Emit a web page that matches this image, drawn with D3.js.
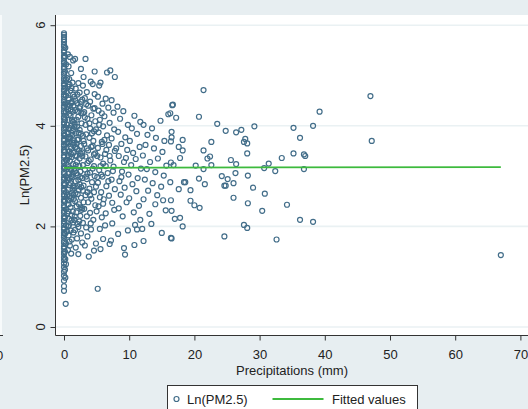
<!DOCTYPE html>
<html lang="en">
<head>
<meta charset="UTF-8">
<title>Ln(PM2.5) vs Precipitations</title>
<script src="https://d3js.org/d3.v7.min.js"></script>
<style>
  html, body { margin: 0; padding: 0; background: #e7eef1; }
  svg { display: block; font-family: "Liberation Sans", Arial, sans-serif; }
</style>
</head>
<body>
<div id="chart"></div>
<script>
// Observations with no rain (precipitation = 0), Ln(PM2.5) values
const noRain = [0.72, 0.81, 0.92, 1.02, 1.1, 1.19, 1.26, 1.33, 1.38, 1.45, 1.49, 1.56, 1.6, 1.67, 1.71, 1.78,
  1.82, 1.87, 1.94, 1.98, 2.05, 2.1, 2.16, 2.2, 2.27, 2.31, 2.38, 2.42, 2.49, 2.53, 2.6, 2.64, 2.71, 2.75,
  2.82, 2.86, 2.93, 2.97, 3.04, 3.08, 3.15, 3.19, 3.26, 3.3, 3.37, 3.41, 3.48, 3.52, 3.59, 3.63, 3.7, 3.74,
  3.81, 3.85, 3.92, 3.96, 4.03, 4.07, 4.14, 4.18, 4.25, 4.29, 4.36, 4.4, 4.47, 4.51, 4.58, 4.62, 4.69, 4.73,
  4.8, 4.84, 4.91, 4.95, 5.02, 5.06, 5.13, 5.17, 5.24, 5.28, 5.35, 5.39, 5.46, 5.5, 5.57, 5.61, 5.67, 5.72,
  5.77, 5.81, 5.84];

// Very light rain, [precip mm, Ln(PM2.5)]
const traceRain = [[0.26, 0.46], [0.2, 0.98], [0.15, 1.14], [0.3, 1.25], [0.2, 1.35], [0.15, 1.5], [0.3, 1.66],
  [0.15, 1.85], [0.3, 2.02], [0.15, 2.18], [0.3, 2.34], [0.15, 2.5], [0.3, 2.68], [0.15, 2.84], [0.3, 3.0],
  [0.15, 3.16], [0.3, 3.32], [0.15, 3.48], [0.3, 3.64], [0.15, 3.8], [0.3, 3.96], [0.15, 4.12], [0.3, 4.28],
  [0.15, 4.44], [0.3, 4.6], [0.15, 4.76], [0.3, 4.92], [0.15, 5.08], [0.3, 5.22], [0.15, 5.38], [0.2, 5.55]];

// Rainy observations, [precip mm, Ln(PM2.5)]
const rainy = [
  [0.6, 5.42], [0.9, 5.37], [1.4, 5.3], [0.7, 5.18], [1.1, 5.05], [0.8, 4.93], [1.3, 4.86], [0.6, 4.78],
  [1.0, 4.7], [1.4, 4.62], [0.7, 4.55], [1.2, 4.47], [0.9, 4.4], [0.6, 4.33], [1.3, 4.28], [1.0, 4.2],
  [0.7, 4.12], [1.4, 4.08], [1.1, 4.0], [0.8, 3.93], [0.6, 3.86], [1.3, 3.82], [1.0, 3.75], [0.7, 3.68],
  [1.4, 3.62], [1.1, 3.55], [0.8, 3.49], [0.6, 3.42], [1.2, 3.38], [0.9, 3.3], [1.4, 3.24], [0.7, 3.18],
  [1.1, 3.12], [0.8, 3.05], [1.3, 2.98], [0.6, 2.92], [1.0, 2.86], [1.4, 2.8], [0.7, 2.73], [1.2, 2.66],
  [0.9, 2.6], [0.6, 2.52], [1.3, 2.46], [1.0, 2.38], [0.7, 2.3], [1.2, 2.22], [0.8, 2.15], [1.4, 2.08],
  [0.6, 2.0], [1.0, 1.92], [0.7, 1.82], [1.2, 1.74], [0.9, 1.62], [0.6, 1.53], [1.1, 1.46],
  [1.7, 5.33], [2.6, 5.13], [2.2, 4.85], [2.9, 4.8], [1.8, 4.74], [2.4, 4.66], [1.6, 4.58], [2.8, 4.52],
  [2.0, 4.45], [2.5, 4.38], [1.7, 4.31], [2.9, 4.25], [2.2, 4.18], [1.6, 4.11], [2.7, 4.05], [2.0, 3.98],
  [2.4, 3.92], [1.8, 3.85], [2.9, 3.8], [2.2, 3.73], [1.6, 3.66], [2.6, 3.6], [2.0, 3.54], [2.8, 3.47],
  [1.7, 3.41], [2.4, 3.35], [2.0, 3.28], [2.9, 3.22], [1.6, 3.15], [2.5, 3.09], [2.1, 3.02], [2.8, 2.96],
  [1.8, 2.9], [2.4, 2.84], [1.6, 2.77], [2.9, 2.71], [2.1, 2.64], [2.6, 2.57], [1.7, 2.5], [2.3, 2.44],
  [2.8, 2.36], [1.9, 2.28], [2.5, 2.21], [1.6, 2.13], [2.9, 2.07], [2.2, 1.99], [1.7, 1.93], [2.6, 1.86],
  [2.0, 1.76], [2.8, 1.68], [2.2, 1.45], [1.8, 1.58],
  [3.3, 5.33], [4.7, 5.08], [3.0, 4.97], [4.1, 4.88], [4.4, 4.83], [3.5, 4.67], [4.7, 4.63], [3.2, 4.55],
  [4.0, 4.48], [3.7, 4.4], [4.5, 4.34], [3.1, 4.27], [4.2, 4.21], [3.6, 4.14], [4.8, 4.09], [3.3, 4.02],
  [4.0, 3.95], [4.6, 3.89], [3.4, 3.83], [3.9, 3.76], [4.5, 3.7], [3.1, 3.64], [4.2, 3.58], [3.7, 3.51],
  [4.8, 3.45], [3.3, 3.39], [4.1, 3.33], [3.6, 3.26], [4.6, 3.2], [3.2, 3.13], [4.0, 3.07], [4.7, 3.0],
  [3.5, 2.94], [4.3, 2.88], [3.0, 2.81], [3.9, 2.75], [4.6, 2.68], [3.3, 2.62], [4.2, 2.55], [3.7, 2.48],
  [4.8, 2.42], [3.1, 2.35], [4.0, 2.27], [3.5, 2.2], [4.5, 2.13], [4.1, 2.06], [3.4, 1.98], [4.14, 1.94],
  [3.2, 1.62], [4.6, 1.52], [3.8, 1.4], [4.9, 1.66], [3.6, 1.8],
  [6.6, 5.06], [7.1, 5.1], [7.8, 4.97], [5.6, 4.86], [5.4, 4.8], [5.2, 4.58], [6.4, 4.54], [7.3, 4.51],
  [5.9, 4.44], [6.8, 4.36], [5.3, 4.3], [7.6, 4.26], [6.2, 4.19], [5.5, 4.12], [7.0, 4.06], [6.0, 3.99],
  [7.7, 3.93], [5.3, 3.87], [6.6, 3.81], [7.3, 3.75], [5.8, 3.68], [6.9, 3.62], [5.2, 3.56], [7.8, 3.5],
  [6.3, 3.44], [5.6, 3.37], [7.1, 3.31], [6.0, 3.25], [7.6, 3.19], [5.4, 3.12], [6.7, 3.06], [5.9, 2.99],
  [7.3, 2.93], [5.2, 2.87], [6.5, 2.8], [7.8, 2.74], [5.7, 2.68], [6.9, 2.61], [6.1, 2.54], [7.4, 2.47],
  [5.3, 2.4], [7.7, 2.33], [6.4, 2.26], [5.8, 2.18], [7.4, 2.06], [6.3, 2.02], [5.5, 1.95], [7.0, 1.65],
  [7.2, 1.72], [5.17, 0.76], [6.0, 1.75], [5.6, 1.55],
  [8.2, 4.38], [9.1, 4.29], [10.8, 4.2], [11.7, 4.08], [8.6, 4.14], [9.8, 4.02], [10.4, 3.95], [8.3, 3.88],
  [11.2, 3.84], [9.4, 3.77], [10.1, 3.7], [8.8, 3.64], [11.6, 3.58], [9.7, 3.52], [10.6, 3.46], [8.4, 3.4],
  [11.0, 3.34], [9.2, 3.28], [10.3, 3.22], [11.8, 3.15], [8.9, 3.09], [9.9, 3.03], [11.3, 2.96], [8.5, 2.9],
  [10.5, 2.84], [9.3, 2.77], [11.1, 2.7], [8.7, 2.63], [10.0, 2.56], [9.6, 2.48], [11.5, 2.41], [8.4, 2.36],
  [10.7, 2.28], [9.0, 2.2], [10.9, 2.03], [11.2, 1.94], [11.7, 2.13], [9.2, 1.57], [9.36, 1.44], [10.8, 1.63],
  [8.3, 1.85], [9.8, 1.92],
  [12.2, 4.02], [13.5, 3.95], [14.8, 4.1], [16.0, 4.23], [16.6, 4.41], [12.8, 3.82], [14.1, 3.76], [15.4, 3.7],
  [12.5, 3.62], [13.8, 3.55], [15.1, 3.48], [12.1, 3.41], [14.4, 3.35], [13.2, 3.28], [15.7, 3.21], [12.7, 3.14],
  [14.0, 3.08], [15.3, 3.01], [12.4, 2.93], [13.6, 2.86], [14.9, 2.79], [12.9, 2.71], [14.3, 2.62], [12.2, 2.54],
  [14.0, 2.44], [15.2, 2.52], [13.1, 2.25], [15.6, 2.32], [12.0, 1.95], [12.2, 1.71], [15.0, 1.87], [16.4, 1.77],
  [13.4, 2.05],
  [0.8, 3.96], [1.5, 3.71], [2.3, 3.5], [3.8, 3.3], [0.9, 3.15], [1.9, 3.06], [3.4, 2.99], [4.4, 3.6],
  [5.1, 3.4], [5.7, 3.03], [0.7, 2.44], [1.5, 2.55], [2.7, 2.33], [3.6, 2.68], [4.9, 2.79], [5.5, 2.58],
  [1.2, 4.12], [2.1, 4.28], [3.0, 3.7], [3.9, 4.05], [4.9, 3.93], [5.9, 3.64], [6.4, 3.2], [6.8, 2.9],
  [1.0, 3.58], [1.8, 3.22], [2.5, 2.98], [3.5, 3.55], [4.4, 3.15], [5.1, 2.98], [0.6, 3.74], [1.6, 3.98],
  [2.6, 3.84], [3.2, 4.17], [4.3, 3.85], [5.4, 4.02], [6.2, 3.72], [1.3, 2.73], [2.2, 2.92], [3.0, 2.48],
  [4.0, 2.62], [5.0, 2.3], [6.0, 2.45], [0.9, 2.95], [1.9, 3.65], [2.8, 3.4], [3.6, 3.05], [4.6, 3.43],
  [5.6, 3.2], [6.5, 3.52], [7.0, 3.4], [7.5, 3.1], [8.0, 3.55], [8.8, 2.98], [9.5, 3.36], [1.1, 4.45],
  [2.6, 4.48], [3.4, 4.43], [4.7, 4.35], [5.8, 4.25],
  [0.5, 4.95], [0.45, 4.66], [0.5, 4.38], [0.45, 4.02], [0.5, 3.66], [0.45, 3.31], [0.5, 2.96], [0.45, 2.62],
  [0.5, 2.26], [0.45, 1.9], [0.85, 4.82], [0.75, 4.52], [0.85, 4.24], [0.8, 3.78], [0.75, 3.38], [0.85, 2.82],
  [0.8, 2.52], [0.75, 2.02], [0.85, 1.7], [1.15, 4.75], [1.05, 4.32], [1.15, 3.86], [1.05, 3.44], [1.15, 3.0],
  [1.05, 2.56], [1.15, 2.12], [1.45, 4.4], [1.35, 3.9], [1.45, 3.46], [1.35, 3.05], [1.45, 2.62], [1.35, 2.3],
  [1.45, 1.88], [1.75, 4.5], [1.65, 4.02], [1.75, 3.58], [1.65, 3.1], [1.75, 2.66], [1.65, 2.2], [2.05, 4.62],
  [1.95, 4.12], [2.05, 3.72], [1.95, 3.4], [2.05, 2.8], [1.95, 2.4], [2.05, 2.05], [2.35, 4.35], [2.25, 3.86],
  [2.35, 3.2], [2.25, 2.72], [2.35, 2.1], [2.65, 4.25], [2.55, 3.45], [2.65, 2.78], [2.55, 2.38],
  [21.4, 4.71], [16.7, 4.42], [16.3, 4.25], [17.2, 4.16], [20.7, 4.18], [23.5, 4.04], [24.8, 3.9], [26.4, 3.87],
  [27.2, 3.92], [29.2, 3.99], [35.2, 3.96], [38.2, 4.0], [39.2, 4.28], [36.2, 3.76], [16.5, 3.88], [16.5, 3.77],
  [16.4, 3.69], [18.2, 3.72], [22.6, 3.68], [27.8, 3.74], [27.6, 3.68], [28.1, 3.65], [17.6, 3.58], [18.2, 3.51],
  [21.4, 3.51], [28.1, 3.45], [35.2, 3.45], [36.8, 3.43], [37.0, 3.4], [33.4, 3.36], [17.8, 3.36], [22.0, 3.35],
  [22.4, 3.39], [25.6, 3.32], [31.4, 3.25], [16.4, 3.27], [16.8, 3.22], [20.2, 3.21], [22.6, 3.22], [26.4, 3.24],
  [30.7, 3.16], [21.4, 3.14], [32.4, 3.1], [36.8, 3.14], [26.3, 3.06], [28.2, 3.01], [24.2, 3.0], [25.1, 2.94],
  [20.7, 2.95], [18.4, 2.88], [18.6, 2.88], [16.3, 2.88], [21.6, 2.84], [26.0, 2.86], [24.6, 2.81], [24.8, 2.81],
  [17.6, 2.74], [19.4, 2.72], [29.0, 2.77], [30.8, 2.65], [26.0, 2.57], [16.4, 2.52], [19.4, 2.51], [20.0, 2.42],
  [20.8, 2.37], [28.2, 2.46], [34.2, 2.43], [16.5, 2.31], [30.4, 2.31], [17.0, 2.15], [17.8, 2.17], [18.2, 2.0],
  [27.6, 2.03], [28.1, 1.97], [36.2, 2.13], [38.2, 2.09], [16.5, 1.76], [24.6, 1.8], [32.6, 1.74],
  [47.0, 4.59], [47.2, 3.7], [67.0, 1.43]
];

// Linear fit line (Fitted values)
const fitted = [[0, 3.165], [67, 3.18]];

const xTicks = [0, 10, 20, 30, 40, 50, 60, 70];
const yTicks = [0, 2, 4, 6];

const W = 528, H = 409;
const axisColor = "#333";
const markerColor = "#426d89";
const fitColor = "#3dba3d";

const svg = d3.select("#chart").append("svg")
  .attr("width", W)
  .attr("height", H);

// graph region background
svg.append("rect").attr("width", W).attr("height", H).attr("fill", "#e7eef1");

// plot region
svg.append("rect")
  .attr("x", 56).attr("y", 15)
  .attr("width", W - 56).attr("height", 320)
  .attr("fill", "#fff");

// edge of the neighbouring panel (cropped in the original)
svg.append("rect").attr("x", 0).attr("y", 15).attr("width", 2).attr("height", 320).attr("fill", "#f7fafb");
svg.append("line").attr("x1", 0).attr("x2", 3).attr("y1", 335.5).attr("y2", 335.5)
  .attr("stroke", axisColor);
svg.append("text").attr("x", -4).attr("y", 360).attr("text-anchor", "middle")
  .attr("font-size", 13).attr("fill", "#222").text("70");

const x = d3.scaleLinear().domain([0, 70]).range([64, 520.4]);
const y = d3.scaleLinear().domain([0, 6]).range([327, 25.2]);

// grid lines
svg.append("g")
  .selectAll("line")
  .data(yTicks)
  .join("line")
  .attr("x1", 56).attr("x2", W)
  .attr("y1", d => y(d)).attr("y2", d => y(d))
  .attr("stroke", "#eaf1f3")
  .attr("stroke-width", 1.6);

// scatter
const allPoints = noRain.map(v => [0, v]).concat(traceRain, rainy);
svg.append("g")
  .selectAll("circle")
  .data(allPoints)
  .join("circle")
  .attr("cx", d => x(d[0]))
  .attr("cy", d => y(d[1]))
  .attr("r", 2.5)
  .attr("fill", "none")
  .attr("stroke", markerColor)
  .attr("stroke-width", 1.2);

// fitted line
svg.append("path")
  .datum(fitted)
  .attr("fill", "none")
  .attr("stroke", fitColor)
  .attr("stroke-width", 1.8)
  .attr("d", d3.line().x(d => x(d[0])).y(d => y(d[1])));

// y axis
const yAxis = svg.append("g")
  .attr("transform", "translate(55.5,0)")
  .call(d3.axisLeft(y).tickValues(yTicks).tickSize(5).tickFormat(""));
yAxis.select(".domain").remove();
yAxis.selectAll("line").attr("stroke", axisColor);
svg.append("line").attr("x1", 55.5).attr("x2", 55.5).attr("y1", 15).attr("y2", 335.5)
  .attr("stroke", axisColor);
svg.append("g")
  .selectAll("text")
  .data(yTicks)
  .join("text")
  .attr("transform", d => `translate(45,${y(d)}) rotate(-90)`)
  .attr("text-anchor", "middle")
  .attr("font-size", 13)
  .attr("fill", "#222")
  .text(d => d);

// x axis
const xAxis = svg.append("g")
  .attr("transform", "translate(0,335.5)")
  .call(d3.axisBottom(x).tickValues(xTicks).tickSize(5).tickPadding(9));
xAxis.select(".domain").remove();
xAxis.selectAll("line").attr("stroke", axisColor);
xAxis.selectAll("text")
  .attr("font-size", 13)
  .attr("font-family", "'Liberation Sans', Arial, sans-serif")
  .attr("fill", "#222");
svg.append("line").attr("x1", 55.5).attr("x2", W).attr("y1", 335.5).attr("y2", 335.5)
  .attr("stroke", axisColor);

// axis titles
svg.append("text")
  .attr("x", 292).attr("y", 375)
  .attr("text-anchor", "middle")
  .attr("font-size", 13)
  .attr("fill", "#222")
  .text("Precipitations (mm)");
svg.append("text")
  .attr("transform", "translate(29,175) rotate(-90)")
  .attr("text-anchor", "middle")
  .attr("font-size", 13)
  .attr("fill", "#222")
  .text("Ln(PM2.5)");

// legend
const legend = svg.append("g");
legend.append("rect")
  .attr("x", 167.5).attr("y", 385.5)
  .attr("width", 250).attr("height", 40)
  .attr("fill", "#fff")
  .attr("stroke", axisColor);
legend.append("circle")
  .attr("cx", 176.5).attr("cy", 399).attr("r", 2.5)
  .attr("fill", "none").attr("stroke", markerColor).attr("stroke-width", 1.2);
legend.append("text")
  .attr("x", 187).attr("y", 404)
  .attr("font-size", 13).attr("fill", "#222")
  .text("Ln(PM2.5)");
legend.append("line")
  .attr("x1", 272.5).attr("x2", 323.5).attr("y1", 399).attr("y2", 399)
  .attr("stroke", fitColor).attr("stroke-width", 1.8);
legend.append("text")
  .attr("x", 332).attr("y", 404)
  .attr("font-size", 13).attr("fill", "#222")
  .text("Fitted values");
</script>
</body>
</html>
